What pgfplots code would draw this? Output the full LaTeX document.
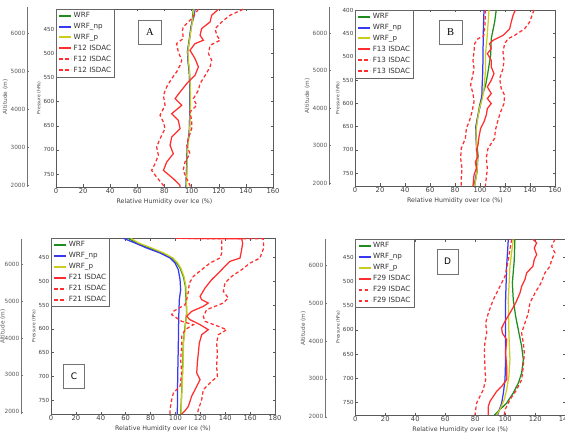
\documentclass[border=0pt]{standalone}
\usepackage{fontspec}
\setmainfont{DejaVu Sans}
\newfontfamily\serifL{Liberation Serif}
\usepackage{pgfplots}
\pgfplotsset{compat=1.18}
\definecolor{mg}{rgb}{0.12,0.55,0.12}
\definecolor{mb}{rgb}{0.22,0.22,0.95}
\definecolor{my}{rgb}{0.80,0.80,0.12}
\definecolor{mr}{rgb}{1,0.18,0.18}
\tikzset{lbox/.style={draw=black!55, line width=0.5bp, fill=white, minimum width=23bp, minimum height=24bp, inner sep=0pt},
  wrf/.style={color=mg, draw=mg}, wnp/.style={color=mb, draw=mb}, wp/.style={color=my, draw=my}, obs/.style={color=mr, draw=mr},
  obsd/.style={color=mr, draw=mr, dash pattern=on 3.5bp off 2.5bp}}
\pgfplotsset{
  main/.style={scale only axis, y dir=reverse,
    axis line style={black!65, line width=0.5bp},
    tick style={black!65, line width=0.4bp}, major tick length=2.5bp, tick align=inside,
    /pgf/number format/assume math mode=true, /pgf/number format/1000 sep={},
    x tick label style={font=\fontsize{6.8}{7}\selectfont, text=black!75, inner sep=1.5bp},
    y tick label style={font=\fontsize{5.6}{6}\selectfont, text=black!75, inner sep=1.5bp},
    xlabel={Relative Humidity over Ice (\%)}, ylabel={Pressure (hPa)},
    xlabel style={font=\fontsize{6.3}{7}\selectfont, text=black!75, inner sep=1bp, yshift=-2.5bp},
    ylabel style={font=\fontsize{4.5}{5}\selectfont, text=black!75, inner sep=1bp},
    ytick={450,500,...,750},
    legend cell align=left,
    legend style={at={(0,1)}, anchor=north west, draw=black!60, line width=0.5bp,
      font=\fontsize{7.2}{7.5}\selectfont, text=black!80, inner xsep=2bp, inner ysep=1.5bp,
      row sep=1.2bp, nodes={inner sep=1.5bp}},
    legend image code/.code={\draw[#1, line width=2bp] (0bp,0bp) -- (12bp,0bp);},
    every axis plot/.append style={line width=1.25bp},
  },
  alt/.style={scale only axis, width=4bp, xmin=0, xmax=1, axis x line=none, axis y line*=left,
    ytick={2000,3000,4000,5000,6000}, ylabel={Altitude (m)},
    y axis line style={black!55, line width=0.5bp}, tick style={black!55, line width=0.4bp},
    major tick length=2bp, tick align=inside,
    /pgf/number format/assume math mode=true, /pgf/number format/1000 sep={},
    y tick label style={font=\fontsize{5.8}{6}\selectfont, text=black!65, inner sep=1.5bp},
    ylabel style={font=\fontsize{5.8}{6}\selectfont, text=black!65, inner sep=1bp}},
}
\begin{document}
\begin{tikzpicture}
\path[use as bounding box] (0,0) rectangle (565bp,434bp);

% ================= Panel A =================
\begin{axis}[alt, at={(27bp,247bp)}, anchor=south west, height=180bp, ymin=1947, ymax=6684]
\addplot[draw=none] coordinates {(0,3000)};
\end{axis}
\begin{axis}[main, at={(56bp,247bp)}, anchor=south west, width=217bp, height=178bp,
  xmin=0, xmax=160, xtick={0,20,...,160}, ymin=408, ymax=777]
\addplot[wrf] coordinates {(101.3,408)(100.5,430)(98.3,469)(96.9,497)(97.5,520)(98.3,539)(98.8,580)(98.8,608)(98.5,640)(98.3,663)(96.9,691)(96.5,720)(96.2,750)(95.9,777)};
\addplot[wnp] coordinates {(102.6,408)(101.6,425)(99.5,445)(98.6,469)(97.0,497)(97.5,520)(98.3,539)(98.8,580)(98.8,608)(98.5,640)(98.3,663)(96.9,691)(96.5,720)(96.2,750)(95.9,777)};
\addplot[wp] coordinates {(101.8,408)(100.8,430)(98.6,469)(97.2,497)(97.8,520)(98.6,539)(99.1,580)(99.1,608)(98.8,640)(98.6,663)(97.2,691)(96.8,720)(96.5,750)(96.2,777)};
\addplot[obs] coordinates {(119.7,408.5)(114.8,421.0)(113.6,434.8)(107.4,448.6)(106.2,462.4)(108.7,472.8)(102.5,479.7)(98.8,493.6)(102.5,510.9)(105.0,528.1)(102.5,545.4)(96.4,562.7)(91.5,580.0)(87.8,593.8)(92.7,607.7)(85.3,625.0)(90.2,638.8)(91.5,656.1)(85.3,673.4)(84.1,690.7)(86.5,708.0)(81.6,725.3)(79.2,742.5)(86.5,759.8)(91.5,773.7)(91.5,777)};
\addplot[obsd] coordinates {(105,408.5)(100,427.9)(93.8,445.2)(93.3,452.1)(93.8,469.4)(88.9,479.7)(90.2,497.0)(92.7,514.3)(91.5,524.7)(88.9,538.5)(85.3,552.4)(81.6,569.6)(79.2,586.9)(80.4,607.7)(76.7,628.4)(79.2,642.3)(80.4,656.1)(76.7,676.8)(74.2,694.1)(75.5,711.4)(73.0,728.7)(70.5,742.5)(74.2,756.4)(79.2,773.7)(80,777)};
\addplot[obsd] coordinates {(138,408.5)(128.3,421.0)(122.2,434.8)(117.3,448.6)(118.5,462.4)(121.0,472.8)(113.6,483.2)(112.4,500.5)(114.8,514.3)(113.6,528.1)(110.0,545.4)(106.2,562.7)(105.0,576.6)(101.3,593.8)(103.8,607.7)(98.8,621.5)(100.0,638.8)(100.0,656.1)(97.6,676.8)(96.4,690.7)(98.8,708.0)(95.1,725.3)(93.8,742.5)(96.4,759.8)(98.8,773.7)(99,777)};
\legend{WRF, WRF\_np, WRF\_p, F12 ISDAC, F12 ISDAC, F12 ISDAC}
\node[lbox, font=\serifL\fontsize{10.5}{10.5}\selectfont] at (axis description cs:0.433,0.868) {A};
\end{axis}

% ================= Panel B =================
\begin{axis}[alt, at={(329bp,249bp)}, anchor=south west, height=178.3bp, ymin=1947, ymax=6701]
\addplot[draw=none] coordinates {(0,3000)};
\end{axis}
\begin{axis}[main, at={(355bp,248bp)}, anchor=south west, width=200bp, height=176bp,
  xmin=0, xmax=160, xtick={0,20,...,160}, ymin=399, ymax=778, ytick={400,450,...,750}]
\addplot[wrf] coordinates {(113,399)(111.7,425)(109,460.8)(108.5,496.6)(106.4,532.4)(104.5,561)(101.9,582.5)(99.7,604)(97.9,632.6)(96.5,654.1)(97,675.5)(98.4,711.3)(97.6,747.1)(95.2,778)};
\addplot[wnp] coordinates {(103.2,399)(102.6,450)(102.4,500)(102.2,532)(101.6,568.2)(101.5,582.5)(100.3,604)(97.9,632.6)(96.5,654.1)(96.8,675.5)(97.6,711.3)(97.4,747.1)(95.6,778)};
\addplot[wp] coordinates {(107.2,399)(105.6,460.8)(104.3,496.6)(104.3,532.4)(103.2,568.2)(101.9,589.7)(99.5,611)(98.2,632.6)(96.7,661.2)(97.3,700)(98,730)(97.3,754)(95.7,778)};
\addplot[obs] coordinates {(128.3,399)(126.4,410.7)(125,425)(123.7,439.4)(118.4,453.7)(110.4,464.4)(107.7,471.6)(109,482.3)(105.9,493)(109,507.4)(109,521.7)(111.2,536)(109,550.3)(105.9,564.6)(109,578.9)(105.9,589.7)(109,600.4)(105.9,611.1)(105,625.5)(103.2,639.8)(100.5,654.1)(99.2,672)(98.4,689.9)(97.1,700.6)(98.4,714.9)(96.3,725.6)(97.1,740)(95.2,754.3)(94.4,778)};
\addplot[obsd] coordinates {(104.5,399)(104,430)(103,455)(98.4,460.8)(95.7,471.6)(95.2,489.5)(94.4,507.4)(95.2,525.2)(93.6,546.7)(92.5,561)(94.4,578.9)(95.2,596.8)(93.6,618.3)(91.7,636.2)(89.1,654.1)(88.3,675.5)(85,697)(84.5,718.5)(85.6,740)(85,761.4)(85,778)};
\addplot[obsd] coordinates {(143.2,399)(141.6,410.7)(139.7,425)(135.7,439.4)(127.7,453.7)(122.4,460.8)(119.7,471.6)(118.4,489.5)(119.2,507.4)(118.4,525.2)(115.7,546.7)(117,568.2)(119.7,582.5)(119.2,600.4)(116.5,618.3)(114.4,636.2)(112.3,657.7)(111.7,675.5)(106.4,697)(105,718.5)(105.9,740)(105,761.4)(104.3,778)};
\legend{WRF, WRF\_np, WRF\_p, F13 ISDAC, F13 ISDAC, F13 ISDAC}
\node[lbox, font=\serifL\fontsize{10.5}{10.5}\selectfont] at (axis description cs:0.4775,0.875) {B};
\end{axis}

% ================= Panel C =================
\begin{axis}[alt, at={(21bp,19.7bp)}, anchor=south west, height=175.3bp, ymin=1930, ymax=6680, ylabel shift=-3.5bp]
\addplot[draw=none] coordinates {(0,3000)};
\end{axis}
\begin{axis}[main, at={(51bp,20bp)}, anchor=south west, width=224bp, height=175.7bp,
  xmin=0, xmax=180, xtick={0,20,...,180}, ymin=410, ymax=778.7]
\addplot[wrf] coordinates {(62,410)(68.8,419.9)(79,430.4)(88.9,440.9)(97,451.4)(101,461.9)(103.7,472.4)(106.3,489.9)(108,510.8)(108.5,538.8)(109,566.8)(107.7,594.8)(106.3,629.7)(105.8,678.7)(105.2,720.6)(104.2,778.7)};
\addplot[wnp] coordinates {(58.2,410)(67.5,419.9)(76.9,430.4)(87.6,440.9)(95.6,451.4)(99.7,461.9)(102.3,475.9)(103.7,496.9)(104.2,517.8)(103.1,538.8)(102.6,580.8)(102.3,636.7)(101.8,699.7)(101.5,778.7)};
\addplot[wp] coordinates {(64,410)(70.5,419.9)(81,430.4)(90.6,440.9)(98,451.4)(101.8,461.9)(104.3,472.4)(106.8,489.9)(108.4,510.8)(108.8,538.8)(109.2,566.8)(107.9,594.8)(106.5,629.7)(106,678.7)(105.4,720.6)(104.4,778.7)};
\addplot[obs] coordinates {(103,410)(153.2,411)(154,419.9)(153.2,433.9)(151.9,451.4)(143.8,458.4)(139.8,468.9)(134.5,482.9)(129.1,496.9)(123.8,514.3)(119.8,531.8)(121.1,538.8)(126.4,545.8)(122.4,552.8)(113,563.3)(109,573.8)(111.7,580.8)(119.8,591.3)(126.4,601.7)(121.1,612.2)(119.2,629.7)(118.4,650.7)(117.6,671.7)(117.1,692.7)(119.8,706.6)(117.1,720.6)(113,741.6)(110.4,762.6)(107.7,772)(105,778.7)};
\addplot[obsd] coordinates {(100,410)(137.2,411)(137.2,440.9)(135.8,451.4)(127.8,461.9)(121.1,475.9)(114.4,489.9)(111.2,503.8)(110.4,521.3)(109,538.8)(107.7,549.3)(98.3,563.3)(97,570.3)(101,577.3)(105,584.3)(114.4,591.3)(107.7,601.7)(105,615.7)(105,636.7)(104.2,664.7)(105,692.7)(103.7,720.6)(98.3,734.6)(97,748.6)(95.6,769.6)(95.6,778.7)};
\addplot[obsd] coordinates {(106,410)(170.5,411)(171,430.4)(169.3,440.9)(168,451.4)(160,461.9)(153.2,475.9)(145.2,489.9)(139.8,503.8)(138.5,521.3)(142.5,535.3)(138.5,545.8)(125.1,559.8)(122.4,573.8)(123.8,584.3)(134.5,594.8)(141.2,601.7)(134.5,612.2)(133.1,629.7)(133.7,650.7)(133.1,678.7)(133.7,699.7)(127.8,713.6)(122.4,727.6)(121.1,748.6)(118.4,769.6)(117.6,778.7)};
\legend{WRF, WRF\_np, WRF\_p, F21 ISDAC, F21 ISDAC, F21 ISDAC}
\node[lbox, minimum width=21bp, font=\fontsize{9}{9}\selectfont] at (axis description cs:0.103,0.213) {C};
\end{axis}

% ================= Panel D =================
\begin{axis}[alt, at={(325bp,16bp)}, anchor=south west, height=178.7bp, ymin=1966, ymax=6681]
\addplot[draw=none] coordinates {(0,3000)};
\end{axis}
\begin{axis}[main, at={(355.3bp,19bp)}, anchor=south west, width=210bp, height=175.7bp,
  xmin=0, xmax=140, xtick={0,20,...,140}, ymin=412.8, ymax=776.2]
\addplot[wrf] coordinates {(106.4,412.8)(106,454.8)(104.7,503.1)(105.3,537.6)(106.9,572.1)(109.1,606.6)(110.9,634.1)(112,661.7)(110.9,689.3)(108.7,710)(105.3,730.7)(100.9,751.4)(96.4,765.2)(92.7,776.2)};
\addplot[wnp] coordinates {(102,412.8)(100.9,468.6)(100.2,537.6)(100.2,606.6)(100.2,661.7)(99.8,703.1)(98.7,730.7)(97.6,751.4)(95.3,772.1)(94.9,776.2)};
\addplot[wp] coordinates {(105.3,412.8)(103.1,468.6)(102,537.6)(102.4,606.6)(103.1,661.7)(102.4,696.2)(100.9,723.8)(99.3,744.5)(96.4,765.2)(94.2,776.2)};
\addplot[obs] coordinates {(118.4,412.8)(120.9,420.3)(119.3,430.7)(120.9,444.5)(119.3,454.8)(118.4,468.6)(114.2,482.4)(113.1,496.2)(110.9,510)(109.8,523.8)(106.9,544.5)(103.1,565.2)(99.8,582.4)(97.6,596.2)(98,606.6)(100.9,620.4)(100.2,647.9)(100.9,675.5)(100.9,703.1)(97.6,716.9)(94.2,727.3)(92,737.6)(89.8,748)(88.7,758.3)(88.7,776.2)};
\addplot[obsd] coordinates {(104.2,412.8)(102,454.8)(99.8,489.3)(95.3,516.9)(92,537.6)(88.7,565.2)(86.9,585.9)(87.6,606.6)(86.4,627.3)(86,647.9)(86.4,675.5)(86.9,703.1)(85.3,723.8)(83.1,737.6)(80.9,751.4)(79.8,776.2)};
\addplot[obsd] coordinates {(133.1,412.8)(130.9,427.2)(133.1,441)(130.9,454.8)(129.8,468.6)(126.4,482.4)(123.8,503.1)(119.8,523.8)(116.4,544.5)(115.3,565.2)(113.1,585.9)(110.9,606.6)(112,627.3)(112.7,647.9)(112,675.5)(110.9,703.1)(107.6,723.8)(103.1,744.5)(99.8,765.2)(99.3,776.2)};
\legend{WRF, WRF\_np, WRF\_p, F29 ISDAC, F29 ISDAC, F29 ISDAC}
\node[lbox, minimum width=21bp, minimum height=25bp, font=\fontsize{9}{9}\selectfont] at (axis description cs:0.439,0.874) {D};
\end{axis}
\end{tikzpicture}
\end{document}
